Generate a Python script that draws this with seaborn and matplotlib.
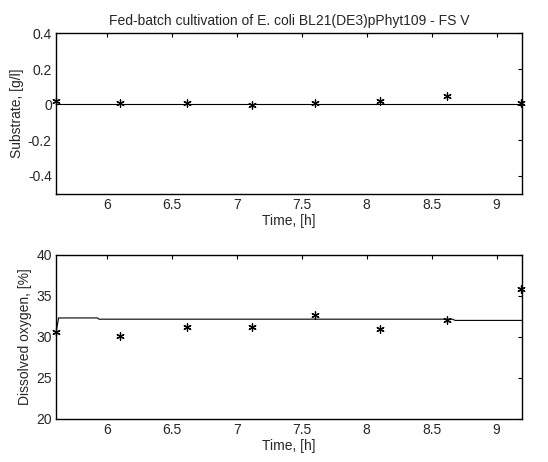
import matplotlib
matplotlib.use("Agg")
import matplotlib.pyplot as plt
import seaborn as sns
import pandas as pd

# Measured samples
sample_time = [5.61, 6.10, 6.62, 7.12, 7.60, 8.10, 8.62, 9.19]
substrate_meas = [0.02, 0.01, 0.01, 0.00, 0.01, 0.02, 0.05, 0.01]
oxygen_meas = [30.55, 30.1, 31.2, 31.2, 32.6, 30.9, 32.1, 35.9]

# Simulated trajectories
sim_time = [5.61, 5.63, 5.93, 5.94, 8.66, 8.68, 9.195]
substrate_sim = [0.003, 0.003, 0.003, 0.003, 0.003, 0.003, 0.003]
oxygen_sim = [30.5, 32.3, 32.3, 32.15, 32.15, 32.0, 32.0]

sns.set_theme(style="white")
plt.rcParams["font.family"] = ["Liberation Sans", "DejaVu Sans"]
plt.rcParams["xtick.direction"] = "in"
plt.rcParams["ytick.direction"] = "in"

fig = plt.figure(figsize=(5.48, 4.62), dpi=100)
W, H = 548, 462
ax1 = fig.add_axes([56 / W, 1 - 193.5 / H, 466 / W, 160 / H])
ax2 = fig.add_axes([56 / W, 1 - 418.5 / H, 466 / W, 163.5 / H])

meas = pd.DataFrame({"t": sample_time, "S": substrate_meas, "DO": oxygen_meas})
sim = pd.DataFrame({"t": sim_time, "S": substrate_sim, "DO": oxygen_sim})

asterisk = (6, 2, 0)
for ax, col, ylim, yticks, ylabel in [
    (ax1, "S", (-0.5, 0.4), [-0.4, -0.2, 0, 0.2, 0.4], "Substrate, [g/l]"),
    (ax2, "DO", (20, 40), [20, 25, 30, 35, 40], "Dissolved oxygen, [%]"),
]:
    sns.lineplot(data=sim, x="t", y=col, ax=ax, color="black", linewidth=0.8,
                 estimator=None, sort=False)
    sns.scatterplot(data=meas, x="t", y=col, ax=ax, marker=asterisk, s=28,
                    color="black", linewidth=0.9, edgecolor="black", clip_on=False)
    ax.set_xlim(5.61, 9.195)
    ax.set_ylim(*ylim)
    ax.set_xticks([6, 6.5, 7, 7.5, 8, 8.5, 9])
    ax.set_xticklabels(["6", "6.5", "7", "7.5", "8", "8.5", "9"])
    ax.set_yticks(yticks)
    ax.set_yticklabels([("%g" % v) for v in yticks])
    ax.tick_params(axis="both", which="both", labelsize=10, length=3, width=0.8,
                   top=True, right=True, color="black", pad=3)
    for sp in ax.spines.values():
        sp.set_color("black")
        sp.set_linewidth(1.0)
    ax.set_xlabel("Time, [h]", fontsize=10, labelpad=2)
    ax.set_ylabel(ylabel, fontsize=10, labelpad=3)

ax1.set_title("Fed-batch cultivation of E. coli BL21(DE3)pPhyt109 - FS V",
              fontsize=10, pad=6)

fig.savefig("out.png", dpi=100)
